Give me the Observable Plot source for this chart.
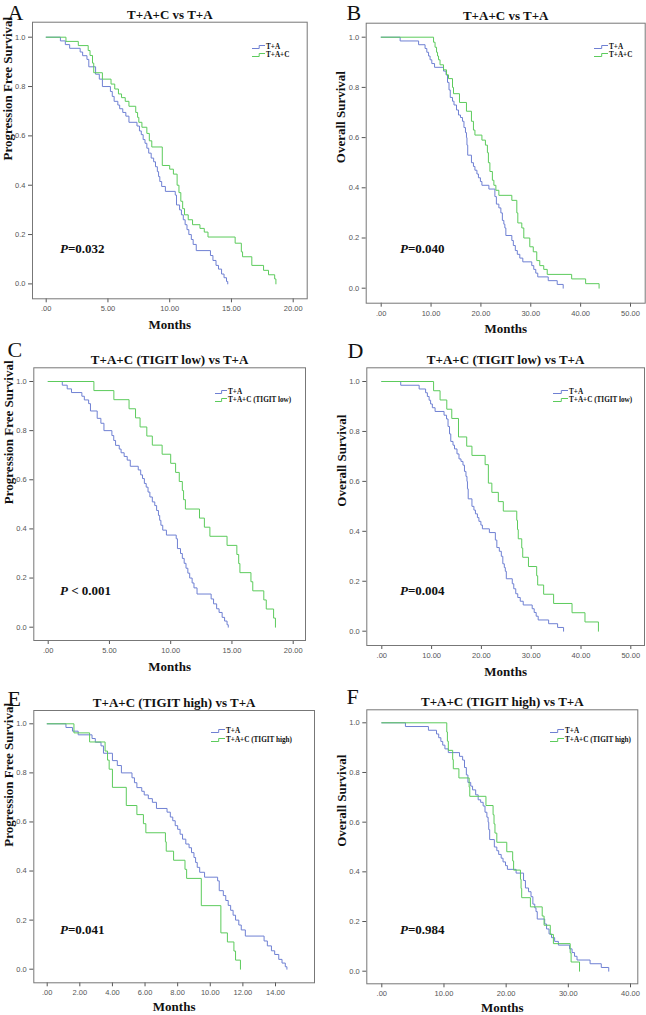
<!DOCTYPE html>
<html><head><meta charset="utf-8">
<script src="https://cdn.jsdelivr.net/npm/d3@7"></script>
<script src="https://cdn.jsdelivr.net/npm/@observablehq/plot@0.6"></script>
<style>
body{margin:0;background:#fff;}
#wrap{position:relative;width:646px;height:1015px;overflow:hidden;background:#fff;}
#wrap svg.plot{position:absolute;overflow:visible;}
.pv{position:absolute;font:bold 13px/13px "Liberation Serif","Times New Roman",serif;white-space:nowrap;color:#111;}
.lg{position:absolute;height:8px;font:bold 7.2px/8px "Liberation Serif","Times New Roman",serif;white-space:nowrap;color:#111;}
</style></head>
<body><div id="wrap"></div>
<script>
// ---- Data (months, survival) ----
const pfsTA_t = [0,1.15,1.55,1.9,2.75,2.95,3.3,3.45,4.0,4.3,4.55,5.2,5.35,5.5,5.8,5.95,6.2,6.45,6.7,7.35,7.55,7.7,7.85,8.0,8.15,8.3,8.5,8.7,8.85,9.0,9.1,9.2,9.35,9.65,10.45,10.55,10.8,10.95,11.1,11.25,11.4,11.55,11.75,11.9,12.15,13.3,13.5,13.75,13.95,14.2,14.4,14.6,14.7];
const pfsTA_s = [1,0.985,0.97,0.955,0.94,0.925,0.91,0.88,0.85,0.83,0.80,0.78,0.76,0.74,0.725,0.71,0.695,0.68,0.655,0.64,0.62,0.605,0.585,0.57,0.55,0.53,0.51,0.495,0.475,0.455,0.435,0.415,0.395,0.375,0.36,0.32,0.30,0.28,0.26,0.24,0.22,0.20,0.18,0.16,0.135,0.115,0.095,0.075,0.06,0.04,0.025,0.01,0];

const pfsTAC_t = [0,1.6,2.6,3.4,3.55,3.75,3.85,4.55,5.25,5.55,5.85,6.1,6.4,6.7,7.25,7.4,7.5,7.75,8.15,8.35,8.55,9.4,10.0,10.3,10.6,10.75,10.9,11.05,11.2,11.5,11.85,12.45,12.8,13.1,15.3,15.8,15.9,16.65,17.6,18.0,18.5,18.6];
const pfsTAC_s = [1,0.983,0.966,0.946,0.926,0.895,0.856,0.83,0.81,0.79,0.77,0.755,0.74,0.72,0.695,0.675,0.655,0.635,0.61,0.58,0.555,0.48,0.465,0.445,0.40,0.37,0.335,0.305,0.28,0.26,0.24,0.225,0.21,0.19,0.165,0.13,0.11,0.075,0.055,0.037,0.02,0];

const pfsLow_t = [0,3.73,5.36,6.6,7.13,7.5,8.05,8.5,9.3,10.0,10.4,10.7,10.95,11.05,11.2,12.35,12.75,13.2,14.6,15.4,15.55,15.65,16.55,16.7,17.6,17.8,18.4,18.55];
const pfsLow_s = [1,0.963,0.926,0.889,0.852,0.815,0.778,0.741,0.704,0.667,0.63,0.593,0.556,0.519,0.481,0.444,0.407,0.37,0.333,0.296,0.259,0.222,0.185,0.148,0.111,0.074,0.037,0];

const pfsHigh_t = [0,1.64,2.6,3.55,3.7,3.8,4.0,4.85,5.5,5.9,6.05,7.25,7.3,7.75,8.45,8.55,9.45,10.65,11.05,11.45,11.55,11.85];
const pfsHigh_s = [1,0.963,0.926,0.889,0.852,0.815,0.741,0.667,0.63,0.593,0.556,0.519,0.481,0.444,0.407,0.37,0.259,0.148,0.111,0.074,0.037,0];

const osTA_t = [0,3.8,7.5,8.8,9.15,9.5,9.8,10.15,10.7,12.5,13.0,13.3,13.6,13.85,14.3,14.6,15.1,15.5,15.9,16.3,16.6,16.9,17.1,17.2,17.35,18.1,18.5,18.8,19.2,19.5,19.9,20.2,21.6,22.8,23.1,23.6,24.0,24.3,24.6,24.8,25.0,26.2,26.5,26.9,27.3,27.8,28.4,30.2,30.6,31.0,31.4,33.5,35.3,36.5];
const osTA_s = [1,0.985,0.97,0.955,0.94,0.925,0.91,0.895,0.88,0.865,0.85,0.82,0.79,0.76,0.745,0.73,0.71,0.69,0.68,0.665,0.64,0.62,0.6,0.57,0.53,0.5,0.485,0.47,0.455,0.44,0.425,0.41,0.395,0.365,0.335,0.32,0.3,0.27,0.255,0.24,0.21,0.19,0.17,0.15,0.135,0.12,0.105,0.09,0.075,0.06,0.045,0.03,0.015,0];

const osTAC_t = [0,10.5,10.8,11.1,11.3,11.5,11.8,12.5,13.1,13.5,14.3,14.5,15.7,17.1,18.1,18.5,18.8,20.2,20.9,21.3,21.5,21.8,22.3,22.6,23.0,23.6,26.2,27.2,27.4,28.2,28.6,29.8,30.5,31.2,31.8,32.6,33.3,38.2,41.0,43.7];
const osTAC_s = [1,0.98,0.96,0.94,0.925,0.91,0.89,0.87,0.85,0.835,0.8,0.775,0.74,0.705,0.665,0.63,0.61,0.59,0.57,0.54,0.5,0.465,0.43,0.41,0.39,0.37,0.35,0.3,0.26,0.24,0.2,0.165,0.145,0.11,0.09,0.075,0.055,0.037,0.018,0];

const osLow_t = [0,10.4,11.7,13.05,14.05,15.4,17.05,18.1,20.75,21.4,22.1,23.4,24.4,27.1,27.25,27.4,28.1,28.3,29.45,31.1,31.3,32.5,34.5,38.2,40.8,43.5];
const osLow_s = [1,0.963,0.926,0.889,0.852,0.778,0.741,0.704,0.667,0.593,0.556,0.519,0.481,0.444,0.407,0.37,0.333,0.296,0.259,0.222,0.185,0.148,0.111,0.074,0.037,0];

const osHigh_t = [0,10.45,10.55,10.7,11.4,11.5,12.4,14.05,14.15,16.75,17.9,18.05,18.2,18.5,20.1,21.05,21.2,22.3,22.4,22.5,23.9,25.8,26.1,27.1,27.6,30.3,30.45,31.8];
const osHigh_s = [1,0.963,0.926,0.889,0.852,0.815,0.778,0.741,0.704,0.667,0.63,0.593,0.556,0.519,0.481,0.444,0.407,0.37,0.333,0.296,0.259,0.222,0.185,0.148,0.111,0.074,0.037,0];

// ---- Tick values and labels ----
const yTicks = [0,0.2,0.4,0.6,0.8,1.0];
const xTicksPFS = [0,5,10,15,20];
const xTicksOS = [0,10,20,30,40,50];
const xTicksPFSHigh = [0,2,4,6,8,10,12,14];
const xTicksOSHigh = [0,10,20,30,40];
const letters = ["A","B","C","D","E","F"];
const titles = ["T+A+C vs T+A","T+A+C vs T+A","T+A+C (TIGIT low) vs T+A","T+A+C (TIGIT low) vs T+A","T+A+C (TIGIT high) vs T+A","T+A+C (TIGIT high) vs T+A"];
const yLabels = ["Progression Free Survival","Overall Survival","Progression Free Survival","Overall Survival","Progression Free Survival","Overall Survival"];
const xLabel = "Months";
const pTexts = ["=0.032","=0.040"," < 0.001","=0.004","=0.041","=0.984"];
const seriesA = "T+A";
const seriesB = ["T+A+C","T+A+C","T+A+C (TIGIT low)","T+A+C (TIGIT low)","T+A+C (TIGIT high)","T+A+C (TIGIT high)"];

// ---- Styling / layout ----
const BLUE = "#6f80d3", GREEN = "#5ccb5c";
const SERIF = "Liberation Serif, Times New Roman, serif";
const SANS = "Liberation Sans, Arial, sans-serif";
const rowTops = [0,335,670], rowHs = [335,335,345], xLabelDy = [30,30,28];
// frame [l,r,t,b]; calibration [x0px, xRefPx, xRefVal, y1px, y0px]
const layout = [
 {col:0,row:0, frame:[32,306.7,21.7,298.3], cal:[45.7,292.7,20,36.7,283.4], letterPos:[7,19.6], leg:[252,47,55,266], pPos:[60,253]},
 {col:1,row:0, frame:[365.7,644.7,22.7,302.7], cal:[380.7,630,50,36.7,287.7], letterPos:[346,19.6], leg:[594,47,55,609], pPos:[400,253]},
 {col:0,row:1, frame:[33.3,305,367.3,640], cal:[47.7,292.7,20,381,626.7], letterPos:[7,356], leg:[215,391.5,399.5,228], pPos:[60,595]},
 {col:1,row:1, frame:[366.3,644,367.3,645], cal:[381.3,630.3,50,381,630.7], letterPos:[347,357], leg:[553,392,400,569], pPos:[400,595]},
 {col:0,row:2, frame:[33.3,314,710,982.3], cal:[46.7,275,14,723.3,968.7], letterPos:[7,705], leg:[211,731,740,226], pPos:[60,934]},
 {col:1,row:2, frame:[366.3,637.3,709.3,983.3], cal:[381.3,630,40,722.3,970.7], letterPos:[346,703], leg:[550,730.5,739.5,565], pPos:[400,934]}
];
const blueData = [[pfsTA_t,pfsTA_s],[osTA_t,osTA_s],[pfsTA_t,pfsTA_s],[osTA_t,osTA_s],[pfsTA_t,pfsTA_s],[osTA_t,osTA_s]];
const greenData = [[pfsTAC_t,pfsTAC_s],[osTAC_t,osTAC_s],[pfsLow_t,pfsLow_s],[osLow_t,osLow_s],[pfsHigh_t,pfsHigh_s],[osHigh_t,osHigh_s]];
const xTicksList = [xTicksPFS,xTicksOS,xTicksPFS,xTicksOS,xTicksPFSHigh,xTicksOSHigh];

const rows = ([t,s]) => t.map((v,i)=>({t:v, s:s[i]}));
const fmtX = d => d === 0 ? ".00" : d.toFixed(2);
const fmtY = d => d.toFixed(1);
const wrap = document.getElementById("wrap");

layout.forEach((L, i) => {
  const [l,r,t,b] = L.frame;
  const [x0p,xrp,xrv,y1p,y0p] = L.cal;
  const kx = (xrp-x0p)/xrv, ky = y0p-y1p;
  const colX = L.col*323, rowY = rowTops[L.row], H = rowHs[L.row];
  const chart = Plot.plot({
    width: 323, height: H,
    marginLeft: l-colX, marginRight: colX+323-r, marginTop: t-rowY, marginBottom: rowY+H-b,
    x: {domain: [(l-x0p)/kx, (r-x0p)/kx]},
    y: {domain: [(y0p-b)/ky, (y0p-t)/ky]},
    style: {fontFamily: SANS, background: "transparent", overflow: "visible"},
    marks: [
      Plot.axisX({ticks: xTicksList[i], tickFormat: fmtX, tickSize: 4, tickPadding: 3, fontSize: 7.5, label: null, color: "#555"}),
      Plot.axisY({ticks: yTicks, tickFormat: fmtY, tickSize: 4, tickPadding: 3, fontSize: 7.5, label: null, color: "#555"}),
      Plot.line(rows(blueData[i]), {x: "t", y: "s", curve: "step-after", stroke: BLUE, strokeWidth: 1}),
      Plot.line(rows(greenData[i]), {x: "t", y: "s", curve: "step-after", stroke: GREEN, strokeWidth: 1}),
      Plot.frame({stroke: "#777", strokeWidth: 1}),
      Plot.text([titles[i]], {frameAnchor: "top", dy: -3.5, lineAnchor: "bottom", fontSize: 13, fontWeight: "bold", fontFamily: SERIF, fill: "#111"}),
      Plot.text([letters[i]], {frameAnchor: "top-left", textAnchor: "start", lineAnchor: "bottom", dx: L.letterPos[0]-l, dy: L.letterPos[1]-t, fontSize: 22, fontFamily: SERIF, fill: "#111"}),
      Plot.text([yLabels[i]], {frameAnchor: "left", rotate: -90, dx: -25, fontSize: 13, fontWeight: "bold", fontFamily: SERIF, fill: "#111"}),
      Plot.text([xLabel], {frameAnchor: "bottom", dy: xLabelDy[L.row], lineAnchor: "bottom", fontSize: 13, fontWeight: "bold", fontFamily: SERIF, fill: "#111"})
    ]
  });
  chart.classList.add("plot");
  chart.style.left = colX + "px";
  chart.style.top = rowY + "px";
  wrap.appendChild(chart);

  // P value
  const pv = document.createElement("div");
  pv.className = "pv";
  pv.style.left = L.pPos[0] + "px";
  pv.style.top = (L.pPos[1] - 10.9) + "px";
  const it = document.createElement("i"); it.textContent = "P";
  pv.appendChild(it);
  pv.appendChild(document.createTextNode(pTexts[i]));
  wrap.appendChild(pv);

  // Legend
  const [sx, cy1, cy2, tx] = L.leg;
  const w = tx - sx - 1;
  [[seriesA, BLUE, cy1],[seriesB[i], GREEN, cy2]].forEach(([name, c, cy]) => {
    const d = document.createElement("div");
    d.className = "lg";
    d.style.left = sx + "px";
    d.style.top = (cy - 4) + "px";
    d.innerHTML = `<svg width="${w}" height="8" style="position:absolute;left:0;top:0;overflow:visible"><path d="M0,5.5H${(w*0.55).toFixed(1)}V2.5H${w}" fill="none" stroke="${c}" stroke-width="1"/></svg>`;
    const sp = document.createElement("span");
    sp.style.position = "absolute";
    sp.style.left = (w + 1) + "px";
    sp.style.top = "0px";
    sp.textContent = name;
    d.appendChild(sp);
    wrap.appendChild(d);
  });
});
</script>
</body></html>
